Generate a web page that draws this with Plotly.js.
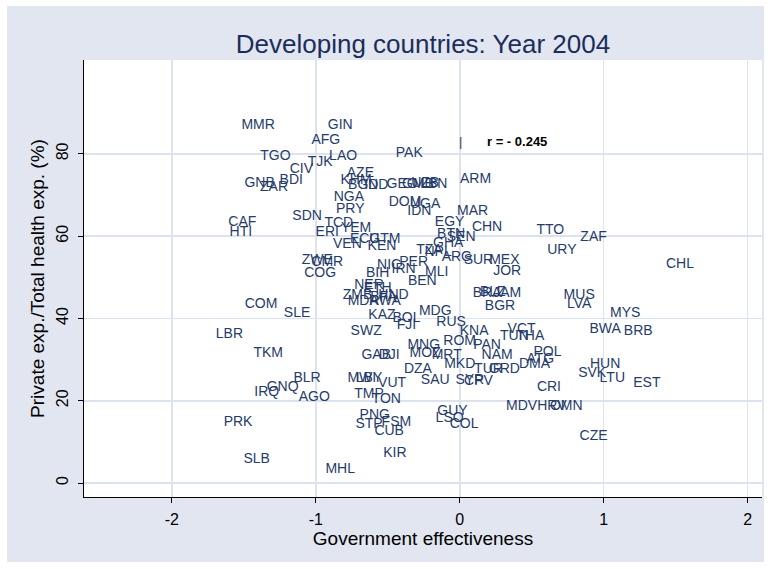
<!DOCTYPE html>
<html>
<head>
<meta charset="utf-8">
<script src="https://cdn.plot.ly/plotly-3.0.1.min.js"></script>
<style>
  html, body { margin: 0; padding: 0; background: #ffffff; }
  #chart { position: absolute; left: 7px; top: 6px; width: 757px; height: 556px; }
</style>
</head>
<body>
<div id="chart"></div>
<script>
// Country ISO codes, government effectiveness score, private share of total health expenditure (%)
const countryCodes = [
  "MMR","GIN","AFG","PAK","TGO","TJK","LAO","CIV","BDI","GNB",
  "ZAR","AZE","KHM","BGD","IND","GEO","GMB","UZB","LBN","ARM",
  "NGA","PRY","DOM","UGA","IDN","MAR","SDN","CAF","HTI","TCD",
  "YEM","ERI","EGY","CHN","BTN","SEN","GHA","TZA","NPL","ECU",
  "GTM","VEN","KEN","ZWE","CMR","COG","NIC","PER","IRN","ARG",
  "SUR","MEX","JOR","BIH","MLI","BEN","NER","ETH","ZMB","BFA",
  "HND","MDA","RWA","KAZ","BOL","FJI","MDG","RUS","COM","SLE",
  "LBR","SWZ","TKM","KNA","MNG","ROM","PAN","MOZ","MRT","GAB",
  "DJI","NAM","MKD","DZA","TUR","GRD","SAU","SYR","CPV","MWI",
  "LBY","VUT","TMP","TON","PNG","STP","FSM","CUB","GUY","LSO",
  "COL","KIR","MHL","SLB","PRK","IRQ","GNQ","BLR","AGO","HUN",
  "SVK","LTU","EST","CRI","MDV","HRV","OMN","CZE","POL","DMA",
  "ATG","VCT","TUN","THA","BWA","BRB","MYS","MUS","LVA","BRA",
  "BLZ","JAM","BGR","TTO","URY","ZAF","CHL"
];

const govEffectiveness = [
  -1.40,-0.83,-0.93,-0.35,-1.28,-0.97,-0.81,-1.10,-1.17,-1.39,
  -1.29,-0.69,-0.72,-0.67,-0.58,-0.40,-0.29,-0.24,-0.18, 0.11,
  -0.77,-0.76,-0.38,-0.24,-0.28, 0.09,-1.06,-1.51,-1.52,-0.84,
  -0.72,-0.92,-0.07, 0.19,-0.06, 0.01,-0.08,-0.21,-0.15,-0.66,
  -0.52,-0.78,-0.54,-0.99,-0.92,-0.97,-0.49,-0.32,-0.39,-0.02,
   0.13, 0.31, 0.33,-0.57,-0.16,-0.26,-0.63,-0.57,-0.71,-0.53,
  -0.46,-0.67,-0.52,-0.54,-0.37,-0.37,-0.17,-0.06,-1.38,-1.13,
  -1.60,-0.65,-1.33, 0.10,-0.25, 0.00, 0.19,-0.24,-0.09,-0.58,
  -0.49, 0.26, 0.00,-0.29, 0.20, 0.31,-0.17, 0.07, 0.13,-0.68,
  -0.63,-0.47,-0.63,-0.51,-0.59,-0.63,-0.44,-0.49,-0.05,-0.07,
   0.03,-0.45,-0.83,-1.41,-1.54,-1.34,-1.23,-1.06,-1.01, 1.01,
   0.92, 1.06, 1.30, 0.62, 0.43, 0.64, 0.74, 0.93, 0.61, 0.52,
   0.56, 0.43, 0.38, 0.49, 1.01, 1.24, 1.15, 0.83, 0.83, 0.19,
   0.23, 0.33, 0.28, 0.63, 0.71, 0.93, 1.53
];

const privateShare = [
  87.0,86.8,83.2,80.2,79.3,78.0,79.3,76.1,73.4,72.7,
  71.7,75.1,73.4,72.2,72.2,72.5,72.5,72.7,72.5,73.7,
  69.3,66.4,68.1,67.6,65.9,65.9,64.7,63.2,61.0,63.0,
  61.8,61.0,63.2,62.2,60.3,59.6,58.1,56.4,55.9,59.1,
  59.1,57.9,57.4,54.0,53.5,50.8,52.8,53.5,51.8,54.7,
  54.0,54.0,51.5,50.8,51.1,48.9,48.1,47.2,45.5,45.2,
  45.5,44.0,44.0,40.6,39.9,38.2,41.6,39.1,43.3,41.1,
  36.2,36.7,31.4,36.7,33.3,34.3,33.3,31.4,31.1,31.1,
  31.1,31.1,28.9,27.5,27.7,27.5,24.8,25.0,24.6,25.5,
  25.3,24.1,21.6,20.4,16.3,14.3,14.8,12.4,17.3,15.6,
  14.3, 7.1, 3.4, 5.6,14.8,21.9,23.1,25.3,20.9,28.7,
  26.5,25.3,24.3,23.3,18.7,18.7,18.7,11.2,31.6,28.7,
  30.1,37.4,35.5,35.7,37.4,36.7,41.3,45.5,43.3,46.0,
  46.4,46.0,42.8,61.3,56.6,59.6,53.0
];

// Axis ticks (hyphen-minus labels)
const xTickValues = [-2, -1, 0, 1, 2];
const xTickLabels = ["-2", "-1", "0", "1", "2"];
const yTickValues = [0, 20, 40, 60, 80];
const yTickLabels = ["0", "20", "40", "60", "80"];

// Correlation note
const corrText = "r = - 0.245";
const corrPos = [0.40, 82.9];

const labelColor = "#263b6a";
const gridColor = "#dde3ee";
const fontFamily = "'Liberation Sans', Arial, Helvetica, sans-serif";

const trace = {
  type: "scatter",
  mode: "text",
  x: govEffectiveness,
  y: privateShare,
  text: countryCodes,
  textposition: "middle center",
  textfont: { family: fontFamily, size: 14, color: labelColor },
  hoverinfo: "text",
  cliponaxis: false,
  showlegend: false
};

const layout = {
  width: 757,
  height: 556,
  margin: { l: 77, r: 2, t: 54, b: 65 },
  paper_bgcolor: "#e1e6f0",
  plot_bgcolor: "#ffffff",
  font: { family: fontFamily, color: "#000000" },
  title: {
    text: "Developing countries: Year 2004",
    font: { family: fontFamily, size: 26, color: "#1c2d5c" },
    x: 0.5, xref: "paper", xanchor: "center",
    y: 0.932, yref: "container", yanchor: "middle",
    automargin: false
  },
  xaxis: {
    range: [-2.61, 2.10],
    tickmode: "array",
    tickvals: xTickValues,
    ticktext: xTickLabels,
    ticks: "outside",
    ticklen: 5,
    tickcolor: "#000000",
    ticklabelstandoff: 3,
    tickfont: { family: fontFamily, size: 16, color: "#000000" },
    showline: true,
    linecolor: "#000000",
    linewidth: 1,
    showgrid: true,
    gridcolor: gridColor,
    gridwidth: 1.6,
    zeroline: false,
    title: { text: "Government effectiveness", font: { family: fontFamily, size: 19, color: "#000000" }, standoff: 1 }
  },
  yaxis: {
    range: [-3.4, 102.8],
    tickmode: "array",
    tickvals: yTickValues,
    ticktext: yTickLabels,
    tickangle: -90,
    ticks: "outside",
    ticklen: 5,
    tickcolor: "#000000",
    ticklabelstandoff: 4,
    tickfont: { family: fontFamily, size: 16, color: "#000000" },
    showline: true,
    linecolor: "#000000",
    linewidth: 1,
    showgrid: true,
    gridcolor: gridColor,
    gridwidth: 1.6,
    zeroline: false,
    title: { text: "Private exp./Total health exp. (%)", font: { family: fontFamily, size: 19, color: "#000000" }, standoff: 3 }
  },
  annotations: [
    {
      x: corrPos[0], y: corrPos[1], xref: "x", yref: "y",
      text: "<b>" + corrText + "</b>",
      showarrow: false,
      font: { family: fontFamily, size: 13, color: "#000000" }
    },
    {
      x: 0.005, y: corrPos[1], xref: "x", yref: "y",
      text: "|",
      showarrow: false,
      font: { family: fontFamily, size: 13, color: "#444444" }
    }
  ]
};

Plotly.newPlot("chart", [trace], layout, { staticPlot: true, displayModeBar: false });
</script>
</body>
</html>
